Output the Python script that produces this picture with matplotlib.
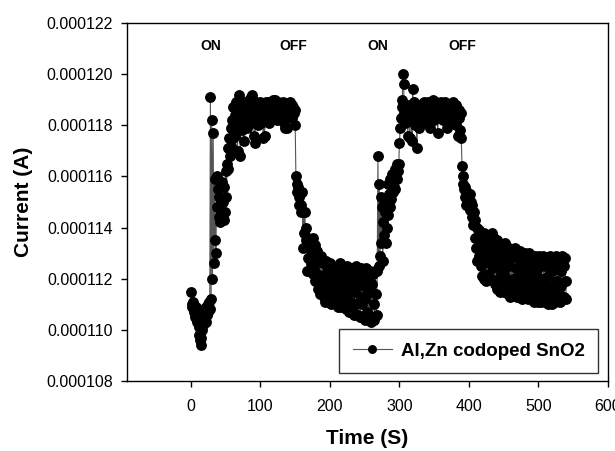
import matplotlib
matplotlib.use('Agg')
import matplotlib.pyplot as plt
import numpy as np
from matplotlib.ticker import FormatStrFormatter

plt.rcParams['font.family'] = ['Liberation Sans', 'DejaVu Sans']

# photocurrent, one reading per second, in microamps (x1e-6 A)
current_uA = [
    # t = 0
    111.5, 111.0, 110.9, 111.1, 110.7, 110.8, 110.5, 110.9, 110.6, 110.3,
    110.6, 110.1, 109.8, 109.6, 109.4, 109.7, 110.0, 110.4, 110.2, 110.8,
    110.5, 110.9, 110.3, 110.6, 111.0, 110.7, 111.1, 110.8, 119.1, 111.2,
    118.2, 112.0, 117.7, 112.6, 115.9, 113.5, 113.0, 116.0, 114.8, 115.5,
    114.4, 115.2, 114.2, 115.0, 114.6, 115.8, 115.0, 114.3, 115.6, 114.6,
    # t = 50
    116.2, 115.2, 116.5, 117.1, 116.3, 117.5, 116.8, 117.9, 117.2, 118.2,
    117.5, 118.7, 117.9, 118.4, 117.6, 118.9, 118.2, 117.0, 118.6, 119.2,
    118.1, 116.8, 118.5, 117.8, 118.3, 118.0, 118.7, 117.4, 118.9, 118.2,
    118.5, 117.9, 118.8, 118.3, 119.0, 118.6, 118.1, 119.1, 119.2, 118.7,
    118.2, 117.6, 117.3, 118.4, 118.9, 118.5, 118.0, 118.7, 118.3, 118.9,
    # t = 100
    118.6, 118.1, 118.8, 118.2, 117.5, 118.4, 117.6, 118.6, 118.9, 118.3,
    118.7, 118.4, 118.9, 118.1, 118.6, 118.8, 118.3, 118.7, 119.0, 118.5,
    118.8, 119.0, 118.4, 118.7, 118.2, 118.9, 118.6, 118.4, 118.8, 118.5,
    118.7, 118.3, 118.9, 118.5, 118.1, 117.9, 118.6, 118.8, 117.9, 118.4,
    118.7, 118.5, 118.9, 118.4, 118.6, 118.8, 118.3, 118.7, 118.5, 118.6,
    # t = 150
    118.0, 116.0, 115.7, 115.4, 115.6, 115.2, 114.9, 115.3, 114.6, 114.9,
    115.4, 113.2, 114.6, 113.8, 114.6, 113.5, 114.0, 112.3, 113.6, 112.8,
    113.2, 112.3, 113.4, 112.6, 113.1, 112.2, 113.6, 112.4, 113.3, 111.9,
    112.9, 112.2, 113.1, 111.6, 112.7, 111.8, 111.4, 112.9, 112.0, 111.5,
    112.6, 111.3, 112.1, 111.1, 112.7, 111.6, 112.3, 111.2, 112.0, 111.5,
    # t = 200
    112.6, 111.0, 112.2, 111.4, 111.8, 112.5, 111.1, 112.0, 111.3, 112.4,
    111.6, 110.9, 112.3, 111.2, 112.6, 111.5, 110.9, 112.1, 111.7, 111.0,
    112.4, 111.3, 111.9, 110.8, 112.5, 111.4, 112.0, 110.7, 112.3, 111.6,
    111.1, 112.4, 110.8, 111.8, 112.2, 110.6, 111.5, 112.5, 111.0, 112.0,
    110.6, 111.7, 112.3, 110.5, 111.3, 112.4, 111.0, 111.9, 110.5, 112.2,
    # t = 250
    111.2, 110.4, 112.4, 111.6, 110.7, 112.1, 110.4, 111.5, 112.3, 110.3,
    111.8, 110.5, 112.2, 111.0, 110.4, 112.3, 111.4, 110.6, 112.3, 116.8,
    112.5, 115.7, 112.9, 115.2, 113.4, 114.8, 112.7, 114.2, 113.7, 114.6,
    113.4, 115.0, 114.0, 115.7, 114.5, 115.3, 114.8, 115.9, 115.1, 116.1,
    115.4, 116.0, 115.6, 116.3, 115.5, 116.2, 115.9, 116.5, 116.2, 116.5,
    # t = 300
    117.3, 117.9, 118.3, 118.7, 119.0, 120.0, 119.6, 118.5, 118.1, 118.6,
    118.3, 118.7, 117.6, 118.4, 118.8, 117.5, 118.5, 118.2, 117.4, 119.4,
    118.6, 118.9, 118.3, 118.0, 118.8, 117.1, 118.2, 118.6, 117.9, 118.5,
    118.8, 118.3, 118.6, 118.1, 118.7, 118.9, 118.4, 118.6, 118.2, 118.8,
    118.5, 118.9, 118.3, 118.7, 117.9, 118.6, 118.8, 118.4, 119.0, 118.5,
    # t = 350
    118.2, 118.7, 118.9, 118.4, 118.6, 117.7, 118.5, 118.8, 118.3, 118.6,
    118.9, 118.4, 118.7, 118.2, 118.8, 118.5, 118.9, 118.3, 118.6, 117.9,
    118.7, 118.4, 118.8, 118.5, 118.2, 118.7, 118.4, 118.9, 118.6, 118.3,
    118.7, 118.0, 118.8, 118.4, 117.6, 118.6, 118.3, 117.8, 118.5, 117.5,
    116.4, 116.0, 115.7, 115.5, 115.2, 115.6, 114.9, 115.4, 115.0, 115.3,
    # t = 400
    114.8, 115.3, 114.7, 115.0, 114.4, 114.9, 114.1, 114.6, 113.6, 114.3,
    113.2, 114.0, 112.7, 113.6, 112.9, 113.9, 113.2, 112.5, 113.7, 112.1,
    113.4, 112.0, 113.8, 112.6, 111.9, 113.5, 112.8, 113.1, 112.2, 113.7,
    112.6, 113.3, 112.0, 113.8, 112.4, 112.9, 113.6, 111.8, 113.2, 112.5,
    113.5, 111.6, 112.8, 113.4, 112.1, 111.5, 113.3, 112.4, 111.7, 113.1,
    # t = 450
    112.2, 111.5, 113.4, 112.7, 111.9, 113.0, 111.4, 112.5, 113.2, 111.3,
    112.8, 111.7, 113.1, 112.0, 111.4, 112.9, 113.2, 111.6, 112.4, 111.3,
    113.0, 112.1, 111.4, 112.7, 113.1, 111.8, 112.5, 111.2, 112.9, 112.2,
    111.3, 113.0, 112.0, 111.6, 112.8, 111.2, 112.4, 113.0, 111.5, 112.1,
    112.9, 111.2, 112.6, 111.8, 111.1, 112.9, 112.2, 111.4, 112.7, 111.1,
    # t = 500
    112.4, 112.9, 111.6, 111.1, 112.6, 112.0, 111.3, 112.9, 111.8, 111.1,
    112.5, 112.8, 111.4, 112.1, 111.0, 112.7, 111.7, 112.9, 111.2, 112.3,
    111.0, 112.8, 111.6, 112.4, 111.1, 112.9, 111.9, 111.2, 112.6, 111.4,
    112.8, 111.1, 112.3, 111.7, 112.9, 111.2, 112.5, 111.3, 112.8, 111.9,
    111.2,
]

# light switched on/off at these times (s)
switch_labels = ['ON', 'OFF', 'ON', 'OFF']
switch_times = [28, 147, 269, 391]

x_ticks = [0, 100, 200, 300, 400, 500, 600]
y_ticks = [0.000108, 0.000110, 0.000112, 0.000114, 0.000116, 0.000118, 0.000120, 0.000122]

# 1 sample per second
time_s = np.arange(len(current_uA))
current_a = np.array(current_uA) * 1e-6

fig = plt.figure(figsize=(6.15, 4.51), dpi=100)
ax = fig.add_axes([0.2065, 0.1552, 0.7821, 0.7938])

ax.plot(time_s, current_a, color='#555555', linewidth=0.8, marker='o',
        markersize=6.8, markerfacecolor='black', markeredgecolor='black',
        label='Al,Zn codoped SnO2')

for lab, t in zip(switch_labels, switch_times):
    ax.text(t, 0.0001211, lab, ha='center', va='center', fontsize=10,
            fontweight='bold')

ax.set_xlim(-92, 600)
ax.set_ylim(y_ticks[0], y_ticks[-1])
ax.set_xticks(x_ticks)
ax.set_yticks(y_ticks)
ax.yaxis.set_major_formatter(FormatStrFormatter('%.6f'))
ax.tick_params(direction='out', length=4, width=1, labelsize=11.5)
ax.tick_params(axis='y', pad=6)
ax.tick_params(axis='x', pad=9)
for sp in ax.spines.values():
    sp.set_linewidth(1)

ax.set_xlabel('Time (S)', fontsize=15, fontweight='bold')
ax.set_ylabel('Current (A)', fontsize=15, fontweight='bold')
ax.xaxis.set_label_coords(0.5, -0.135)
ax.yaxis.set_label_coords(-0.195, 0.5)

leg = ax.legend(loc='lower right', bbox_to_anchor=(0.979, 0.022),
                borderaxespad=0, fancybox=False, framealpha=1,
                edgecolor='#333333', prop={'size': 13.5, 'weight': 'bold'},
                handlelength=2.1, handletextpad=0.45, borderpad=0.72,
                markerscale=0.8)
leg.get_frame().set_linewidth(1)

fig.savefig('out.png', dpi=100)
